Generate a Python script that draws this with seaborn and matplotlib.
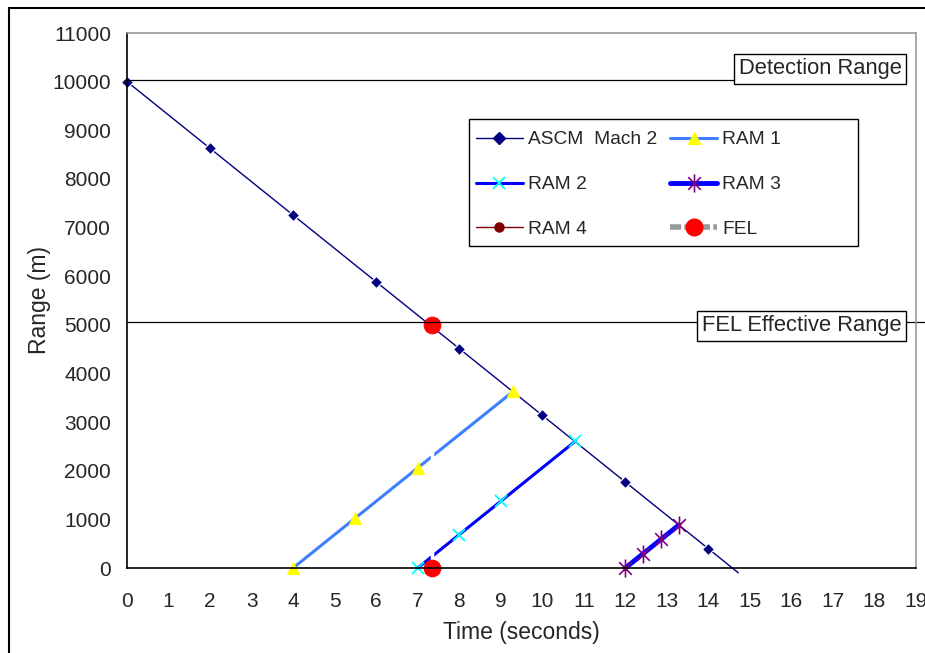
import numpy as np
import matplotlib
matplotlib.use('Agg')
import matplotlib.pyplot as plt
import seaborn as sns
from matplotlib.lines import Line2D
from matplotlib.patches import Rectangle
from matplotlib.path import Path

# data
ascm_t = [0, 2, 4, 6, 8, 10, 12, 14, 14.72]
ascm_r = [10000, 8628, 7256, 5884, 4512, 3140, 1768, 396, -98]

ram1_t = [4, 5.5, 7, 9.3]
ram1_r = [0, 1029, 2058, 3630]

ram2_t = [7, 8, 9, 10.8]
ram2_r = [0, 686, 1372, 2610]

ram3_t = [12, 12.43, 12.86, 13.29]
ram3_r = [0, 295, 590, 885]

ram4_t = []
ram4_r = []

fel_t = [7.35, 7.35]
fel_r = [5000, 0]

range_lines = [10040, 5060]
range_labels = ['Detection Range', 'FEL Effective Range']

sns.set_style('white')
plt.rcParams['font.family'] = ['Liberation Sans', 'DejaVu Sans']

fig = plt.figure(figsize=(9.25, 6.53), dpi=100)
ax = fig.add_axes([127/925, 85/653, 789/925, 535/653])

# excel style asterisk: X plus a vertical bar
asterisk = Path([(-0.7, -0.7), (0.7, 0.7), (-0.7, 0.7), (0.7, -0.7), (0, -1), (0, 1)],
                [Path.MOVETO, Path.LINETO, Path.MOVETO, Path.LINETO, Path.MOVETO, Path.LINETO])

st_ascm = dict(color='#000080', lw=1, marker='D', ms=6)
st_ram1 = dict(color='#3f7fff', lw=2.2, marker='^', ms=9, mfc='#ffff00', mec='#ffff00')
st_ram2 = dict(color='#0000ff', lw=2.2, marker='x', ms=9, mec='#00ffff', mew=1.3)
st_ram3 = dict(color='#0000ff', lw=3.5, marker=asterisk, ms=13, mec='#800080', mew=1.2)
st_ram4 = dict(color='#800000', lw=1, marker='o', ms=6.5)

sns.lineplot(x=ascm_t, y=ascm_r, ax=ax, markevery=list(range(8)), estimator=None,
             sort=False, clip_on=False, **st_ascm)
sns.lineplot(x=ram1_t, y=ram1_r, ax=ax, estimator=None, sort=False, clip_on=False, **st_ram1)
sns.lineplot(x=ram2_t, y=ram2_r, ax=ax, estimator=None, sort=False, clip_on=False, **st_ram2)
sns.lineplot(x=ram3_t, y=ram3_r, ax=ax, estimator=None, sort=False, clip_on=False, **st_ram3)
# FEL beam shows as a white stroke over the RAM lines
sns.lineplot(x=fel_t, y=fel_r, ax=ax, color='white', lw=2.5, estimator=None, sort=False)
sns.lineplot(x=fel_t, y=fel_r, ax=ax, color='red', lw=0, marker='o', ms=12,
             mec='red', estimator=None, sort=False, clip_on=False)

ax.set_xlim(0, 19)
ax.set_ylim(0, 11000)
ax.set_xticks(range(0, 20))
ax.set_yticks(range(0, 11001, 1000))
ax.tick_params(axis='both', direction='out', length=5.5, width=1, color='black',
               labelsize=15)
ax.tick_params(axis='x', pad=12)
ax.tick_params(axis='y', pad=6)
for s in ['left', 'bottom']:
    ax.spines[s].set_color('black')
    ax.spines[s].set_linewidth(1.2)
for s in ['top', 'right']:
    ax.spines[s].set_color('#999999')
    ax.spines[s].set_linewidth(1.2)

ax.set_xlabel('Time (seconds)', fontsize=16.5, labelpad=7)
ax.set_ylabel('Range (m)', fontsize=16.5, labelpad=1)

# reference range lines + boxed labels
ax.plot([0, 18.77], [range_lines[0]] * 2, color='black', lw=0.9, clip_on=False)
ax.plot([0, 19.23], [range_lines[1]] * 2, color='black', lw=0.9, clip_on=False)
box = dict(boxstyle='square,pad=0.2', fc='white', ec='black', lw=1)
ax.text(16.69, 10267, range_labels[0], fontsize=15.8, ha='center', va='center', bbox=box)
ax.text(16.24, 4979, range_labels[1], fontsize=15.8, ha='center', va='center', bbox=box)

h = {
    'ASCM  Mach 2': Line2D([], [], **st_ascm),
    'RAM 1': Line2D([], [], **st_ram1),
    'RAM 2': Line2D([], [], **st_ram2),
    'RAM 3': Line2D([], [], **st_ram3),
    'RAM 4': Line2D(ram4_t, ram4_r, **st_ram4),
    'FEL': Line2D([], [], color='#999999', lw=4, ls=(0, (2, 0.6)), marker='o', ms=12,
                  mfc='red', mec='red'),
}
# legend frame is wider than its entries, so draw it separately
ax.add_patch(Rectangle((0.4335, 0.6019), 0.4927, 0.2374, transform=ax.transAxes,
                       fc='white', ec='black', lw=1, zorder=4.5, clip_on=False))
# matplotlib fills legend columns first, so order for row-wise reading
order = ['ASCM  Mach 2', 'RAM 2', 'RAM 4', 'RAM 1', 'RAM 3', 'FEL']
leg = ax.legend([h[k] for k in order], order, ncol=2, loc='upper left',
                bbox_to_anchor=(0.4423, 0.8168), borderaxespad=0, borderpad=0,
                fontsize=13.8, frameon=False, handlelength=2.45,
                labelspacing=1.43, columnspacing=0.68, handletextpad=0.26)
leg.set_zorder(5)

fig.patches.append(Rectangle((9/925, -0.1), 1.2, 0.1 + 645/653, transform=fig.transFigure,
                             fill=False, ec='black', lw=1.5))

fig.savefig('out.png', dpi=100)
